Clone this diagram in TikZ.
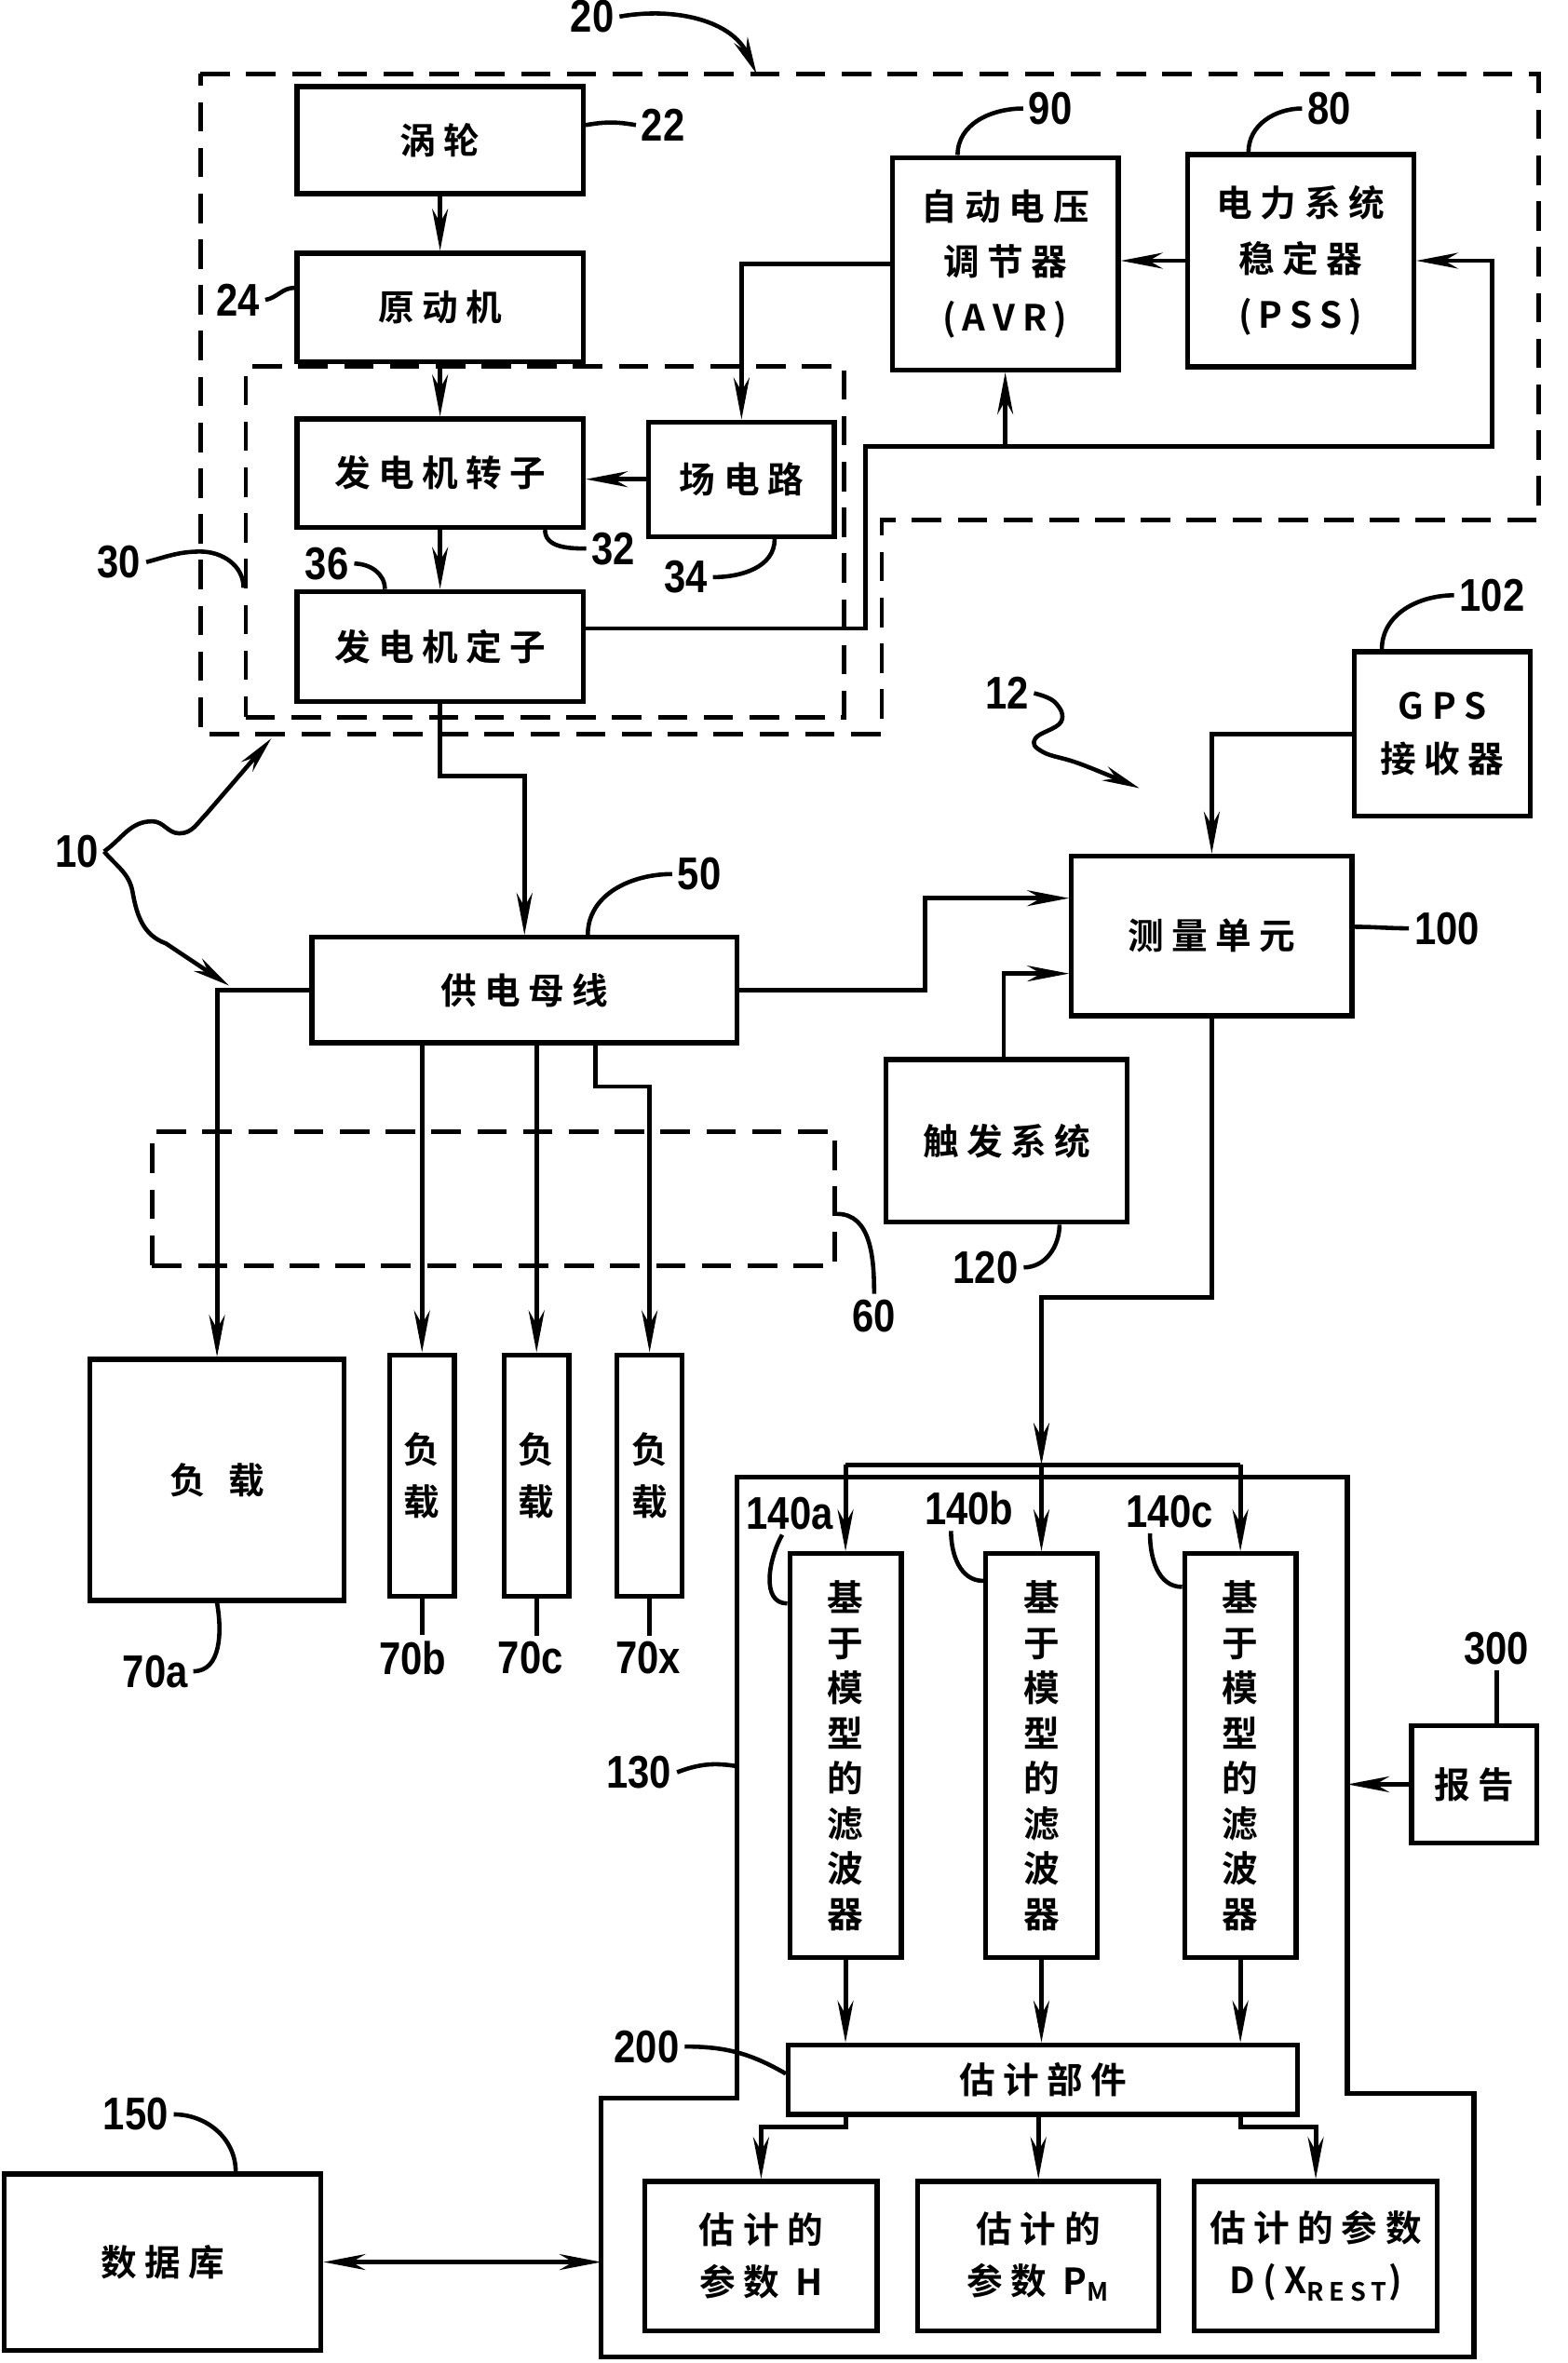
\documentclass[tikz,border=0pt]{standalone}
\usepackage{fontspec}
\setmainfont{Noto Sans CJK SC}[BoldFont={Noto Sans CJK SC Bold}]
\newfontfamily\boxfont{Noto Sans CJK SC}[BoldFont={Noto Sans CJK SC Bold},LetterSpace=22]
\newfontfamily\numfont{Liberation Sans}[FakeStretch=0.85]
\usetikzlibrary{arrows.meta,calc}
\def\pxu{0.01619cm}
\tikzstyle{blk}=[rectangle, draw, line width=1.5pt, inner sep=0pt,
  align=center, font=\boxfont\bfseries\fontsize{11pt}{17pt}\selectfont]
\tikzstyle{vtxt}=[font=\boxfont\bfseries\fontsize{11pt}{13.8pt}\selectfont]
\tikzstyle{conn}=[line width=1.4pt, ->, >={Stealth[length=4.5mm,width=1.7mm]}]
\tikzstyle{lead}=[line width=1.3pt, >={Stealth[length=4mm,width=1.6mm]}]
\tikzstyle{dashbox}=[draw, line width=1.3pt, dash pattern=on 9pt off 5pt]
\tikzstyle{num}=[inner sep=1.5pt, font=\numfont\bfseries\fontsize{14pt}{14pt}\selectfont]
\tikzset{wh/.style 2 args={minimum width=#1*\pxu, minimum height=#2*\pxu}}

\begin{document}
\begin{tikzpicture}[x=\pxu, y=-\pxu]
\useasboundingbox (0,0) rectangle (1040,1568);

% Generator unit 20
\draw[dashbox] (133,49) -- (1021,49) -- (1021,345) -- (585,345)
	-- (585,487) -- (133,487) -- cycle;
\coordinate (top20) at (502,49);
\path (361.5,359.5) node[dashbox, wh={397}{233}] (grp30) {};
\path (292,93) node[blk, wh={190}{71}] (turbine) {涡轮};
\path (292,204) node[blk, wh={190}{72}] (prime) {原动机};
\path (292,314) node[blk, wh={190}{72}] (rotor) {发电机转子};
\path (492,318) node[blk, wh={123}{76}] (field) {场电路};
\path (292,429) node[blk, wh={190}{73}] (stator) {发电机定子};
\path (667,175) node[blk, wh={150}{141}] (avr) {自动电压\\调节器\\(\,AVR\,)};
\path (863,173) node[blk, wh={150}{141}] (pss) {电力系统\\稳定器\\(\,PSS\,)};

\draw[conn] (turbine) -- (prime);
\draw[conn] (prime) -- (rotor);
\draw[conn] (rotor) -- (stator);
\draw[conn] (field.west) -- (field.west -| rotor.east);
\draw[conn] (pss.west) -- (pss.west -| avr.east);
\draw[conn] (avr.west) -| (field.north);

% Feedback loop stator -> PSS / AVR
\coordinate (loopa) at (574,296);
\coordinate (loopb) at (990,296);
\draw[conn] ($(stator.east)+(0,-12)$) -| (loopa) -- (loopb) |- (pss.east);
\draw[conn] (avr.south |- loopa) -- (avr.south);

% Bus and loads
\path (348,657) node[blk, wh={282}{70}] (bus) {供电母线};
\draw[conn] (stator.south) -- ++(0,48) -| (bus.north);
\path (327.5,795.5) node[dashbox, wh={453}{89}] (grp60) {};
\path (144,982) node[blk, wh={169}{160}] (loada) {负\hspace{7pt}载};
\path (280,979) node[blk, wh={43}{160}, font=\boxfont\bfseries\fontsize{11pt}{16pt}\selectfont] (loadb) {负\\载};
\path (356,979) node[blk, wh={43}{160}, font=\boxfont\bfseries\fontsize{11pt}{16pt}\selectfont] (loadc) {负\\载};
\path (431,979) node[blk, wh={43}{160}, font=\boxfont\bfseries\fontsize{11pt}{16pt}\selectfont] (loadx) {负\\载};
\coordinate (xtap) at (395,721);
\draw[conn] (bus.west) -| (loada.north);
\draw[conn] (loadb.north |- bus.south) -- (loadb.north);
\draw[conn] (loadc.north |- bus.south) -- (loadc.north);
\draw[conn] (xtap |- bus.south) -- (xtap) -| (loadx.north);

% Measurement side
\path (804,621) node[blk, wh={186}{106}] (meas) {测量单元};
\path (957,487) node[blk, wh={117}{109}, font=\boxfont\bfseries\fontsize{11pt}{16pt}\selectfont] (gps) {GPS\\接收器};
\path (668,757) node[blk, wh={160}{108}] (trig) {触发系统};
\coordinate (busup) at (614,596);
\coordinate (trigup) at (666,646);
\draw[conn] (gps.west) -| (meas.north);
\draw[conn] (bus.east) -| (busup) -- (busup -| meas.west);
\draw[conn] (trigup |- trig.north) -- (trigup) -- (trigup -| meas.west);

% Estimation system 130
\draw[line width=1.5pt] (489,980) -- (894,980) -- (894,1389) -- (978,1389)
	-- (978,1564) -- (399,1564) -- (399,1392) -- (489,1392) -- cycle;
\coordinate (frameL) at (399,1501);
\coordinate (frameR) at (894,1184);
\coordinate (frame130) at (489,1172);
\path (561,1165) node[blk, vtxt, wh={74}{268}] (filta) {基\\于\\模\\型\\的\\滤\\波\\器};
\path (691,1165) node[blk, vtxt, wh={74}{268}] (filtb) {基\\于\\模\\型\\的\\滤\\波\\器};
\path (823,1165) node[blk, vtxt, wh={74}{268}] (filtc) {基\\于\\模\\型\\的\\滤\\波\\器};
\path (692,1380) node[blk, wh={338}{46}] (est) {估计部件};
\path (505,1497) node[blk, wh={154}{99}, font=\boxfont\bfseries\fontsize{11pt}{16pt}\selectfont] (parh) {估计的\\参数 H};
\path (689,1497) node[blk, wh={160}{99}, font=\boxfont\bfseries\fontsize{11pt}{16pt}\selectfont] (parp) {估计的\\参数 P\textsubscript{M}};
\path (873,1497) node[blk, wh={161}{99}, font=\boxfont\bfseries\fontsize{11pt}{16pt}\selectfont] (pard) {估计的参数\\D(X\textsubscript{REST})};
\path (108,1501) node[blk, wh={210}{117}] (db) {数据库};
\path (978,1184) node[blk, wh={83}{78}] (report) {报告};

\coordinate (mdown) at (691,861);
\coordinate (split) at (691,972);
\draw[conn] (meas.south) |- (mdown) -- (split);
\draw[conn] (split) -- (filtb.north);
\draw[line width=1.4pt] (filta.north |- split) -- (filtc.north |- split);
\draw[conn] (filta.north |- split) -- (filta.north);
\draw[conn] (filtc.north |- split) -- (filtc.north);
\draw[conn] (filta.south) -- (filta.south |- est.north);
\draw[conn] (filtb.south) -- (filtb.south |- est.north);
\draw[conn] (filtc.south) -- (filtc.south |- est.north);
\draw[conn] (filta.south |- est.south) -- ++(0,7) -| (parh.north);
\draw[conn] (est.south -| parp.north) -- (parp.north);
\draw[conn] (filtc.south |- est.south) -- ++(0,7) -| (pard.north);
\draw[conn, <->] (db.east) -- (frameL);
\draw[conn] (report.west) -- (frameR);

% Reference numerals
\path (393,11) node[num] (n20) {20};
\path (440,83) node[num] (n22) {22};
\path (158,199) node[num] (n24) {24};
\path (79,373) node[num] (n30) {30};
\path (407,364) node[num] (n32) {32};
\path (455,383) node[num] (n34) {34};
\path (217,374) node[num] (n36) {36};
\path (697,72) node[num] (n90) {90};
\path (882,72) node[num] (n80) {80};
\path (51,565) node[num] (n10) {10};
\path (668,460) node[num] (n12) {12};
\path (464,580) node[num] (n50) {50};
\path (990,395) node[num] (n102) {102};
\path (960,616) node[num] (n100) {100};
\path (654,841) node[num] (n120) {120};
\path (580,873) node[num] (n60) {60};
\path (103,1109) node[num] (n70a) {70a};
\path (274,1100) node[num] (n70b) {70b};
\path (352,1100) node[num] (n70c) {70c};
\path (430,1100) node[num] (n70x) {70x};
\path (524,1004) node[num] (n140a) {140a};
\path (643,1001) node[num] (n140b) {140b};
\path (776,1003) node[num] (n140c) {140c};
\path (993,1094) node[num] (n300) {300};
\path (424,1176) node[num] (n130) {130};
\path (429,1358) node[num] (n200) {200};
\path (90,1403) node[num] (n150) {150};

% Leaders
\draw[lead, ->] (n20.east) to[out=10,in=115] (top20);
\draw[lead] (turbine.east |- n22.west) to[bend left=10] (n22.west);
\draw[lead] (n24.east) to[out=10,in=180] ($(prime.west)+(0,-13)$);
\draw[lead] (n30.east) to[out=15,in=180] (133,366) to[out=0,in=90] (grp30.west |- 0,390);
\draw[lead] ($(rotor.south east)+(-27,0)$) to[out=-90,in=180] (n32.west);
\draw[lead] ($(field.south)+(22,0)$) to[out=-90,in=0] (n34.east);
\draw[lead] (n36.east) to[out=0,in=90] ($(stator.north west)+(60,0)$);
\draw[lead] (n90.west) to[out=180,in=90] ($(avr.north west)+(45,0)$);
\draw[lead] (n80.west) to[out=180,in=90] ($(pss.north west)+(42,0)$);
\draw[lead, ->] (n10.east) to[out=35,in=180] (101,545) to[out=0,in=180] (119,553)
	to[out=0,in=225] (137,540) -- (180,490);
\draw[lead, ->] (n10.east) to[out=-50,in=100] (88,592) to[out=-80,in=160] (110,626) -- (152,654);
\draw[lead, ->] plot[smooth, tension=0.7] coordinates {(n12.east) (700,466) (704,479)
	(687,490) (692,499) (717,507) (756,523)};
\draw[lead] (n50.west) to[out=180,in=90] ($(bus.north)+(42,0)$);
\draw[lead] (n102.west) to[out=180,in=90] ($(gps.north west)+(20,0)$);
\draw[lead] ($(meas.east)+(0,-6)$) to[out=0,in=180] (n100.west);
\draw[lead] ($(trig.south)+(35,0)$) to[out=-90,in=0] (n120.east);
\draw[lead] ($(grp60.east)+(0,10)$) to[out=0,in=90] (n60.north);
\draw[lead] (loada.south) to[out=-80,in=0] (n70a.east);
\draw[lead] (loadb.south) -- (loadb.south |- n70b.north);
\draw[lead] (loadc.south) -- (loadc.south |- n70c.north);
\draw[lead] (loadx.south) -- (loadx.south |- n70x.north);
\draw[lead] ($(n140a.south)+(-5,0)$) to[out=-120,in=180] ($(filta.west)+(0,-101)$);
\draw[lead] ($(n140b.south)+(-12,0)$) to[out=-90,in=180] ($(filtb.west)+(0,-116)$);
\draw[lead] ($(n140c.south)+(-13,0)$) to[out=-90,in=180] ($(filtc.west)+(0,-112)$);
\draw[lead] (n300.south) -- (n300.south |- report.north);
\draw[lead] (n130.east) to[bend left=15] (frame130);
\draw[lead] (n200.east) to[out=0,in=150] ($(est.west)+(0,-4)$);
\draw[lead] (n150.east) to[out=0,in=90] ($(db.north west)+(155,0)$);

\end{tikzpicture}
\end{document}
